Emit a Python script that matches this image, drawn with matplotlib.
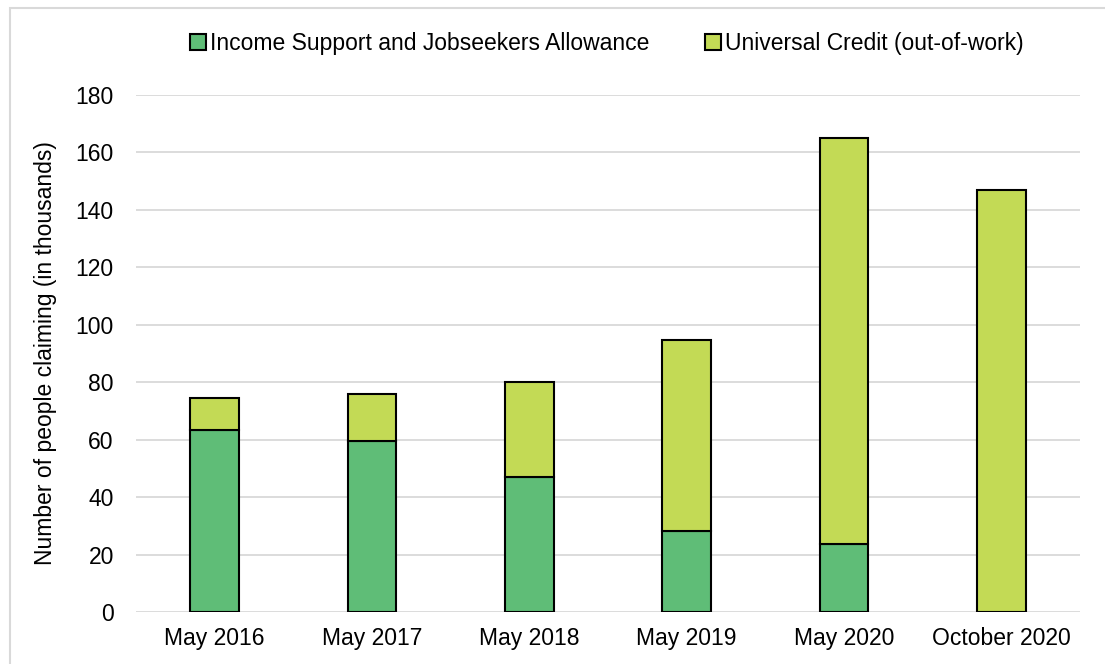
import matplotlib.pyplot as plt
import matplotlib.patches as mpatches

plt.rcParams['font.family'] = ['Liberation Sans', 'DejaVu Sans']

# Данные по заявителям (тыс. человек)
periods = ['May 2016', 'May 2017', 'May 2018', 'May 2019', 'May 2020', 'October 2020']
income_jsa = [63.4, 59.5, 47.0, 28.3, 23.7, 0]
universal_credit = [11.1, 16.4, 33.1, 66.4, 141.3, 146.9]

green = '#5FBD77'
lime = '#C3DA55'
fs = 16.5

fig = plt.figure(figsize=(11.05, 6.64), dpi=100)
ax = fig.add_axes([0.1231, 0.0783, 0.8543, 0.7787])

x = range(len(periods))
ax.bar(x, income_jsa, width=0.31, color=green, edgecolor='black', linewidth=1.5,
       label='Income Support and Jobseekers Allowance', zorder=3)
ax.bar(x, universal_credit, bottom=income_jsa, width=0.31, color=lime,
       edgecolor='black', linewidth=1.5, label='Universal Credit (out-of-work)', zorder=3)

ax.set_xlim(-0.5, len(periods) - 0.5)
ax.set_ylim(0, 180)
ax.set_yticks(range(0, 181, 20))
ax.set_xticks(list(x))
ax.set_xticklabels(periods)
ax.tick_params(axis='both', length=0, labelsize=fs, colors='black')
ax.tick_params(axis='x', pad=11)
ax.tick_params(axis='y', pad=16)
ax.grid(axis='y', color='#D9D9D9', linewidth=1.3, zorder=0)
for s in ['top', 'right', 'left', 'bottom']:
    ax.spines[s].set_visible(False)
ax.set_ylabel('Number of people claiming (in thousands)', fontsize=fs, labelpad=13)

fig.legend(loc='center', bbox_to_anchor=(0.549, 0.934), ncol=2, frameon=False,
           fontsize=fs, handlelength=0.7, handleheight=0.7, handletextpad=0.2,
           columnspacing=2.4)

# рамка вокруг диаграммы
fig.patches.append(mpatches.Rectangle((10 / 1105, -0.05), 1.1, (664 - 8) / 664 + 0.05,
                                      transform=fig.transFigure, fill=False,
                                      edgecolor='#D9D9D9', linewidth=1.5))

plt.savefig('out.png', dpi=100)
